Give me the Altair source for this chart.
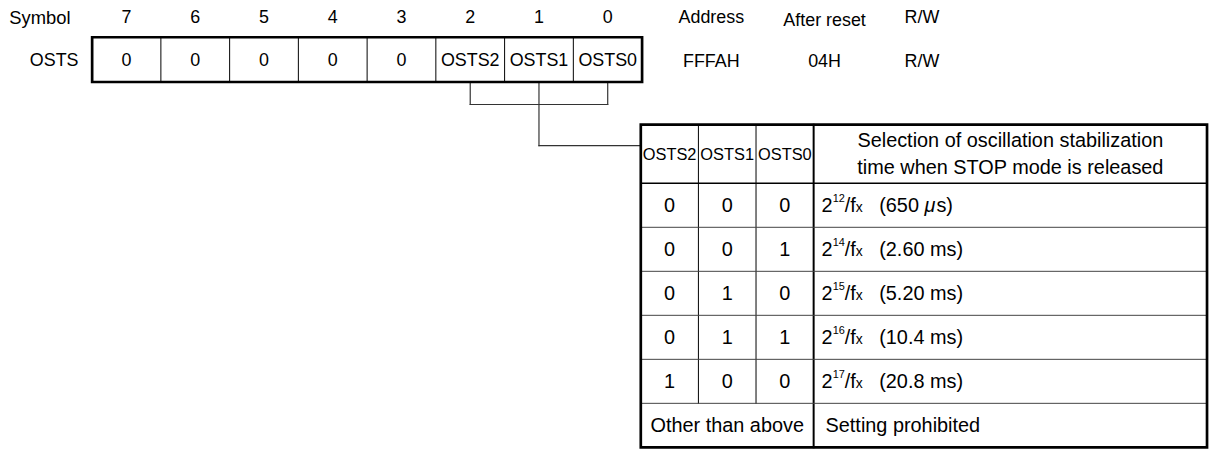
import altair as alt
import pandas as pd

# ---------------- data ----------------
bit_numbers = [7, 6, 5, 4, 3, 2, 1, 0]
bit_contents = ["0", "0", "0", "0", "0", "OSTS2", "OSTS1", "OSTS0"]
register_name = "OSTS"
info_headers = ["Address", "After reset", "R/W"]
info_values = ["FFFAH", "04H", "R/W"]
table_fields = ["OSTS2", "OSTS1", "OSTS0"]
table_title = ["Selection of oscillation stabilization", "time when STOP mode is released"]
osts2 = [0, 0, 0, 0, 1]
osts1 = [0, 0, 1, 1, 0]
osts0 = [0, 1, 0, 1, 0]
exponents = ["12", "14", "15", "16", "17"]
time_values = ["650", "2.60", "5.20", "10.4", "20.8"]
time_units = ["μs", "ms", "ms", "ms", "ms"]
other_label = "Other than above"
other_text = "Setting prohibited"

# ---------------- layout ----------------
W, H = 1211, 442
FONT = "Liberation Sans"
REG_X0, CELL_W, REG_Y0, REG_Y1 = 92.7, 69.2, 36.0, 81.0
TOP_Y = 17
REG_TY = 60
INFO_X = [716, 830, 928]
TAB_X = [645, 703, 761, 819, 1215]
TAB_Y0, HDR_Y1, ROW_H = 124.0, 183.0, 44.3
N_ROWS = len(osts2) + 1
TAB_Y1 = HDR_Y1 + ROW_H * N_ROWS
DESC_X = 827
BUS_Y, LINK_Y = 103.7, 145.0
FS = 20

CW = {"2": .556, "1": .556, "/": .278, "f": .278, "x": .5, "(": .333,
      "0": .556, "6": .556, "5": .556, " ": .278, ".": .278, "4": .556, "8": .556, "7": .556}


def tw(s, fs):
    return sum(CW.get(c, .556) for c in s) * fs


def cell_cx(i):
    return REG_X0 + CELL_W * (i + 0.5)


# ---------------- lines ----------------
lines = []


def L(x, y, x2, y2, w=1.0, c="#000000"):
    lines.append(dict(x=x, y=y, x2=x2, y2=y2, w=w, c=c))


for i in range(1, 8):
    L(REG_X0 + CELL_W * i, REG_Y0, REG_X0 + CELL_W * i, REG_Y1, 1.0)
for b in (5, 6, 7):
    L(cell_cx(b), REG_Y1, cell_cx(b), BUS_Y, 1.2, "#333333")
L(cell_cx(5), BUS_Y, cell_cx(7), BUS_Y, 1.2, "#333333")
L(cell_cx(6), BUS_Y, cell_cx(6), LINK_Y, 1.2, "#333333")
L(cell_cx(6), LINK_Y, TAB_X[0], LINK_Y, 1.2, "#333333")
L(TAB_X[0], HDR_Y1, TAB_X[-1], HDR_Y1, 1.6)
L(TAB_X[3], TAB_Y0, TAB_X[3], TAB_Y1, 2.0)
for k in (1, 2):
    L(TAB_X[k], TAB_Y0, TAB_X[k], HDR_Y1 + ROW_H * (N_ROWS - 1), 1.0)
for r in range(1, N_ROWS):
    L(TAB_X[0], HDR_Y1 + ROW_H * r, TAB_X[-1], HDR_Y1 + ROW_H * r, 1.0, "#444444")
lines_df = pd.DataFrame(lines)

boxes_df = pd.DataFrame([
    dict(x=REG_X0, x2=REG_X0 + 8 * CELL_W, y=REG_Y0, y2=REG_Y1),
    dict(x=TAB_X[0], x2=TAB_X[-1], y=TAB_Y0, y2=TAB_Y1),
])

# ---------------- texts ----------------
texts = []


def T(x, y, t, fs=18, align="center", italic=False):
    texts.append(dict(x=float(x), y=float(y), label=t, fs=float(fs), al=align, it=italic))


T(71, TOP_Y, "Symbol", 18.5, "right")
T(79, REG_TY, register_name, 18, "right")
for i, (bn, bc) in enumerate(zip(bit_numbers, bit_contents)):
    T(cell_cx(i), TOP_Y, str(bn))
    T(cell_cx(i), REG_TY, bc)
for x, h, v in zip(INFO_X, info_headers, info_values):
    T(x, TOP_Y + (3 if h == "After reset" else 0), h)
    T(x, REG_TY + 1, v)
for k, f in enumerate(table_fields):
    T((TAB_X[k] + TAB_X[k + 1]) / 2, 155, f, 16.5)
DESC_CX = (TAB_X[3] + TAB_X[4]) / 2
T(DESC_CX, 140, table_title[0], FS)
T(DESC_CX, 168, table_title[1], FS)
for r in range(len(osts2)):
    cy = HDR_Y1 + ROW_H * (r + 0.5) + 1
    for k, col in enumerate((osts2, osts1, osts0)):
        T((TAB_X[k] + TAB_X[k + 1]) / 2, cy, str(col[r]), FS)
    x = DESC_X
    T(x, cy, "2", FS, "left")
    x += tw("2", FS)
    T(x, cy - 7, exponents[r], 11, "left")
    x += tw(exponents[r], 11)
    T(x, cy, "/f", FS, "left")
    x += tw("/f", FS)
    T(x, cy + 1.5, "x", 14, "left")
    tx = DESC_X + 58
    if time_units[r] == "μs":
        head = "(" + time_values[r] + " "
        T(tx, cy, head, FS, "left")
        tx += tw(head, FS)
        T(tx, cy, "μ", FS, "left", True)
        tx += 0.6 * FS
        T(tx, cy, "s)", FS, "left")
    else:
        T(tx, cy, "(" + time_values[r] + " " + time_units[r] + ")", FS, "left")
cy = HDR_Y1 + ROW_H * (N_ROWS - 0.5) + 1
T((TAB_X[0] + TAB_X[3]) / 2, cy, other_label, FS)
T(DESC_X + 4, cy, other_text, FS, "left")
texts_df = pd.DataFrame(texts)

# ---------------- chart ----------------
xs = alt.Scale(domain=[8, 8 + W], nice=False, zero=False)
ys = alt.Scale(domain=[8 + H, 8], nice=False, zero=False)

rules = alt.Chart(lines_df).mark_rule(strokeCap="square").encode(
    x=alt.X("x:Q", scale=xs, axis=None), x2="x2:Q",
    y=alt.Y("y:Q", scale=ys, axis=None), y2="y2:Q",
    strokeWidth=alt.StrokeWidth("w:Q", scale=None),
    color=alt.Color("c:N", scale=None),
)

boxes = alt.Chart(boxes_df).mark_rect(
    fillOpacity=0, stroke="black", strokeWidth=2.7
).encode(
    x=alt.X("x:Q", scale=xs, axis=None), x2="x2:Q",
    y=alt.Y("y:Q", scale=ys, axis=None), y2="y2:Q",
)

layers = [rules, boxes]
groups = texts_df.groupby(["al", "it", "fs"])
for (al, it, fs), sub in groups:
    kw = dict(align=al, baseline="middle", font=FONT, fontSize=float(fs), color="black")
    if it:
        kw["fontStyle"] = "italic"
    layers.append(
        alt.Chart(sub.reset_index(drop=True)[["x", "y", "label"]]).mark_text(**kw).encode(
            x=alt.X("x:Q", scale=xs, axis=None),
            y=alt.Y("y:Q", scale=ys, axis=None),
            text=alt.Text("label:N"),
        )
    )

chart = alt.layer(*layers).properties(
    width=W, height=H, padding=0, autosize=alt.AutoSizeParams(type="none"),
    background="white",
).configure_view(stroke=None)

chart.save("out.html", embed_options={"renderer": "svg", "actions": False})
